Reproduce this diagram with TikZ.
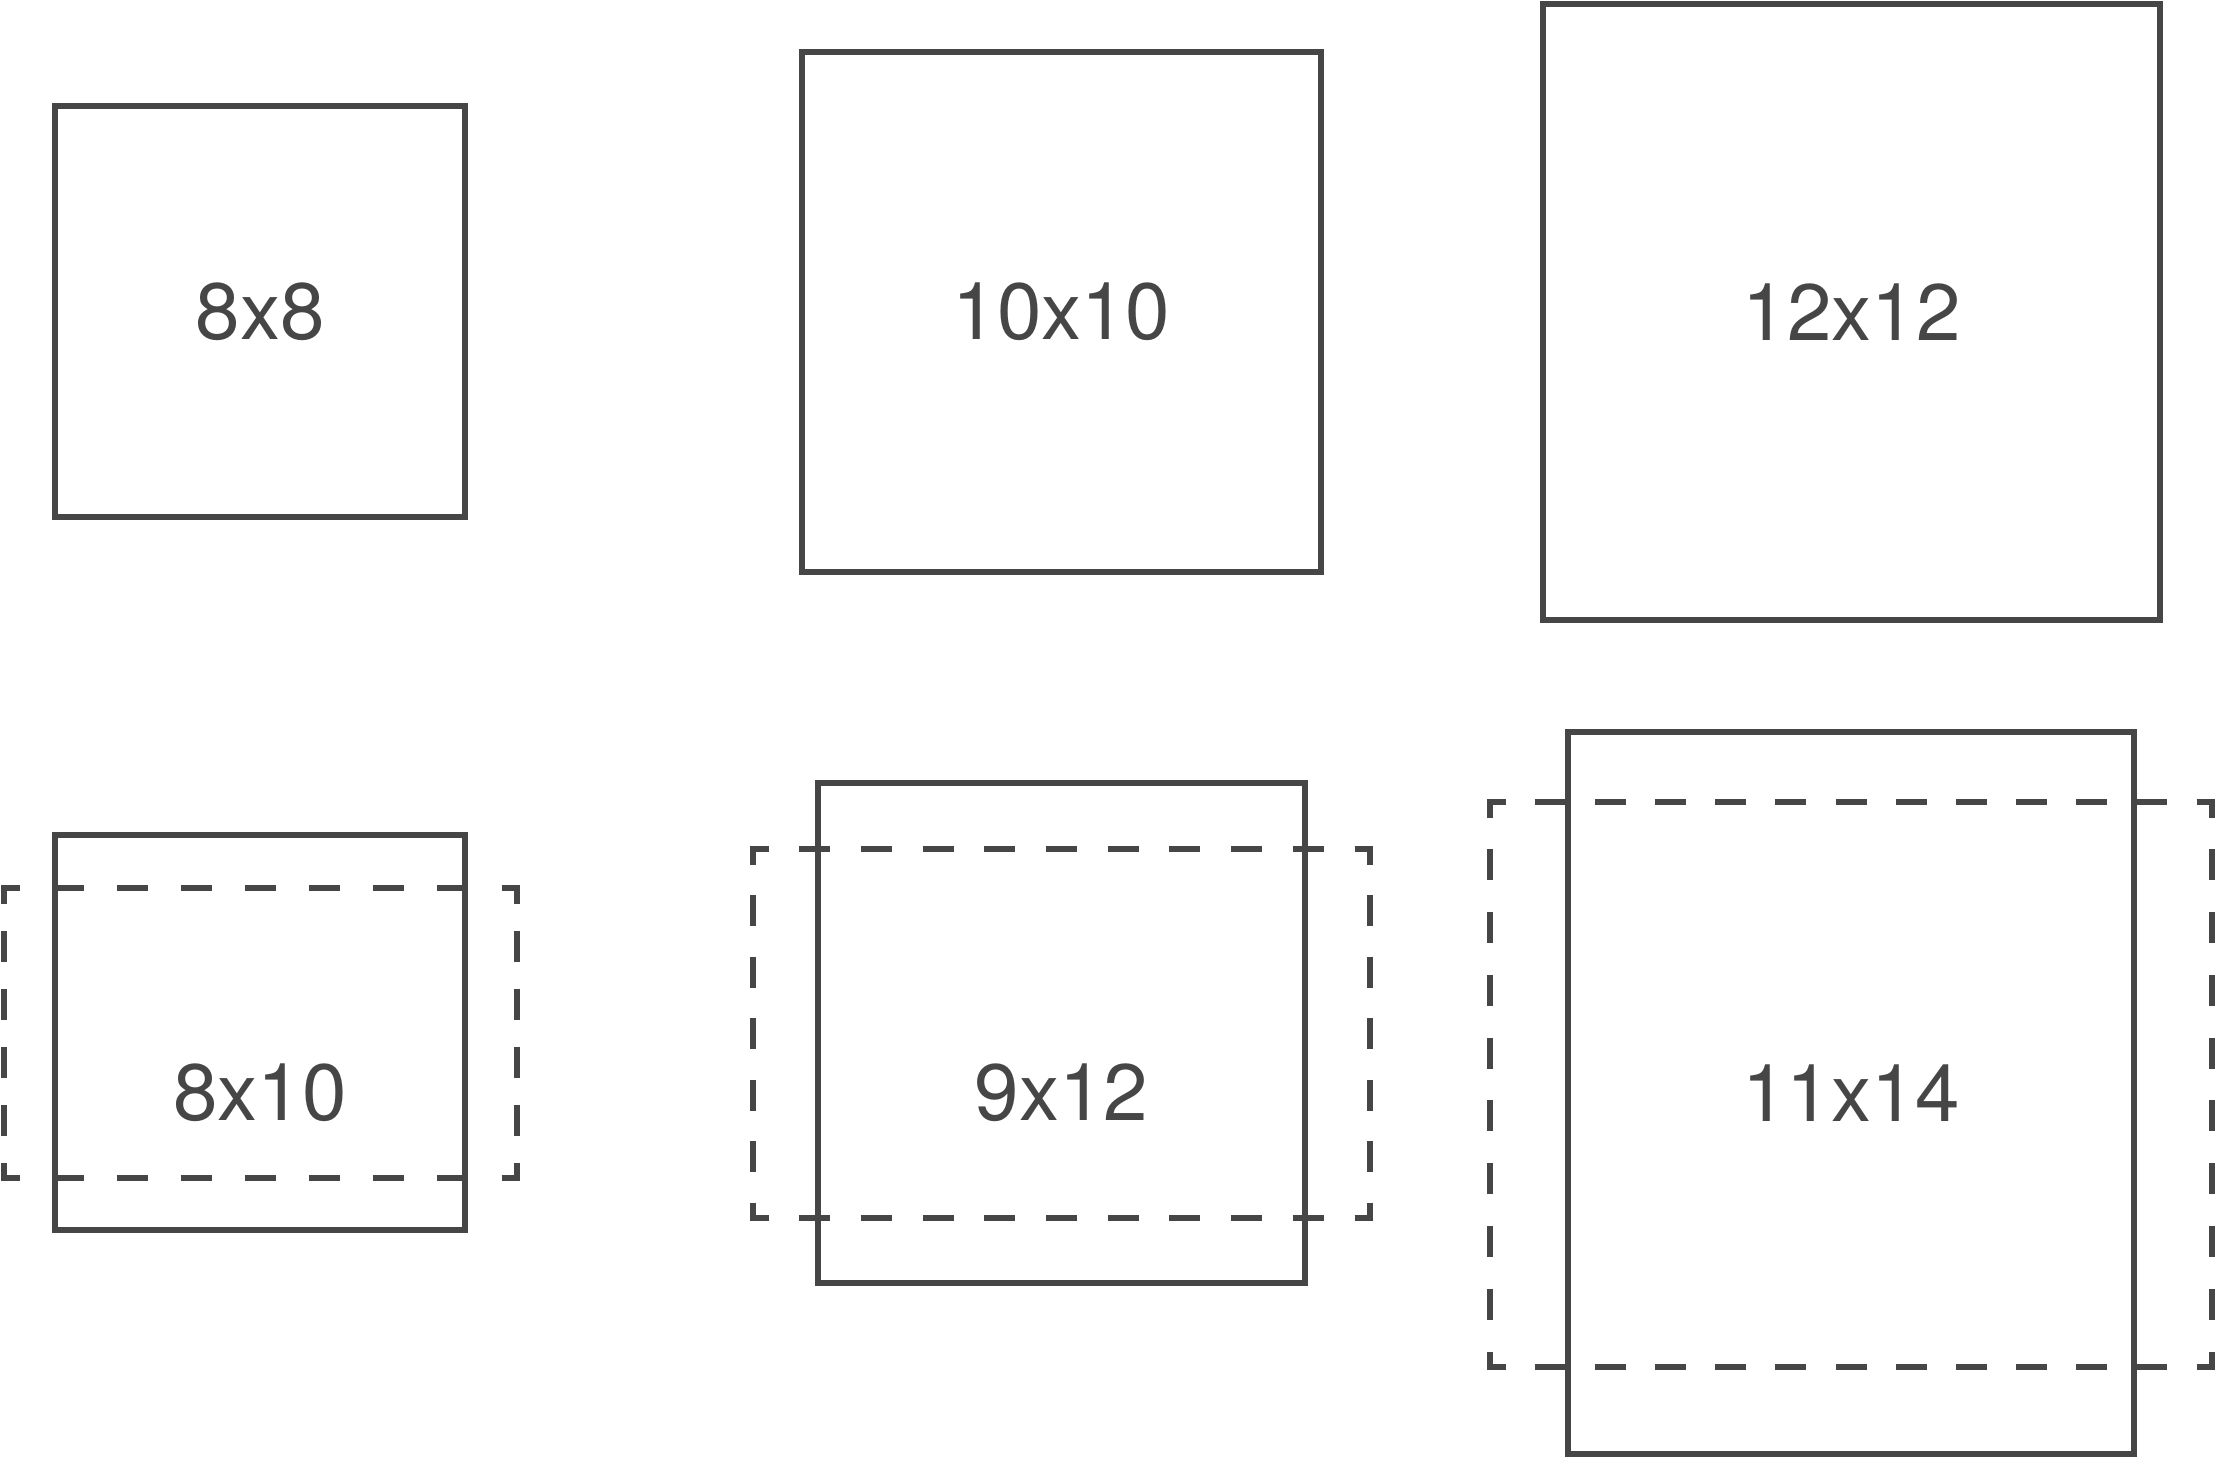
\documentclass[tikz,border=0pt]{standalone}
\usepackage{fontspec}
\setmainfont{TeX Gyre Heros}
\definecolor{frame}{RGB}{70,70,70}
\tikzset{
  solidframe/.style={draw=frame, line width=2.6pt, line join=miter},
  dashline/.style={draw=frame, line width=2.6pt, line cap=butt, line join=miter},
  sizelabel/.style={text=frame, inner sep=0pt, font=\fontsize{40}{48}\selectfont}
}
% one side of a dashed frame: x1 y1 x2 y2 n (dashes of 30px, half dashes at both ends)
\newcommand\dside[5]{%
  \pgfmathsetmacro\dL{veclen(#3-#1,#4-#2)}%
  \pgfmathsetmacro\dG{(\dL/#5-31)*0.5}%
  \draw[dashline, dash pattern=on 15.5pt off \dG pt, dash phase=7.75pt] (#1,#2) -- (#3,#4);}
% dashed frame: x1 y1 x2 y2 nh nv
\newcommand\dframe[6]{%
  \dside{#1}{#2}{#3}{#2}{#5}
  \dside{#1}{#4}{#3}{#4}{#5}
  \dside{#1}{#2}{#1}{#4}{#6}
  \dside{#3}{#2}{#3}{#4}{#6}
  \draw[dashline] (#1+15.5,#2) -- (#1,#2) -- (#1,#2+15.5);
  \draw[dashline] (#3-15.5,#2) -- (#3,#2) -- (#3,#2+15.5);
  \draw[dashline] (#1+15.5,#4) -- (#1,#4) -- (#1,#4-15.5);
  \draw[dashline] (#3-15.5,#4) -- (#3,#4) -- (#3,#4-15.5);}
\begin{document}
\begin{tikzpicture}[x=0.5pt,y=-0.5pt]
\useasboundingbox (0,0) rectangle (2215,1456);
% top row
\draw[solidframe] (55,106) rectangle (465,517);
\node[sizelabel] (l88) at (260,312) {8x8};
\draw[solidframe] (802,52) rectangle (1321,572);
\node[sizelabel] (l1010) at (1061.5,312) {10x10};
\draw[solidframe] (1543,4) rectangle (2160,620);
\node[sizelabel] (l1212) at (1851.5,312) {12x12};
% bottom row
\draw[solidframe] (55,835) rectangle (465,1230);
\dframe{4}{888}{517}{1178}{8}{5}
\node[sizelabel] (l810) at (260,1093) {8x10};
\draw[solidframe] (818,783) rectangle (1305,1283);
\dframe{753}{849}{1370}{1218}{10}{6}
\node[sizelabel] (l912) at (1061.5,1093) {9x12};
\draw[solidframe] (1568,732) rectangle (2134,1454);
\dframe{1490}{802}{2212}{1367}{12}{9}
\node[sizelabel] (l1114) at (1851,1093) {11x14};
\end{tikzpicture}
\end{document}
